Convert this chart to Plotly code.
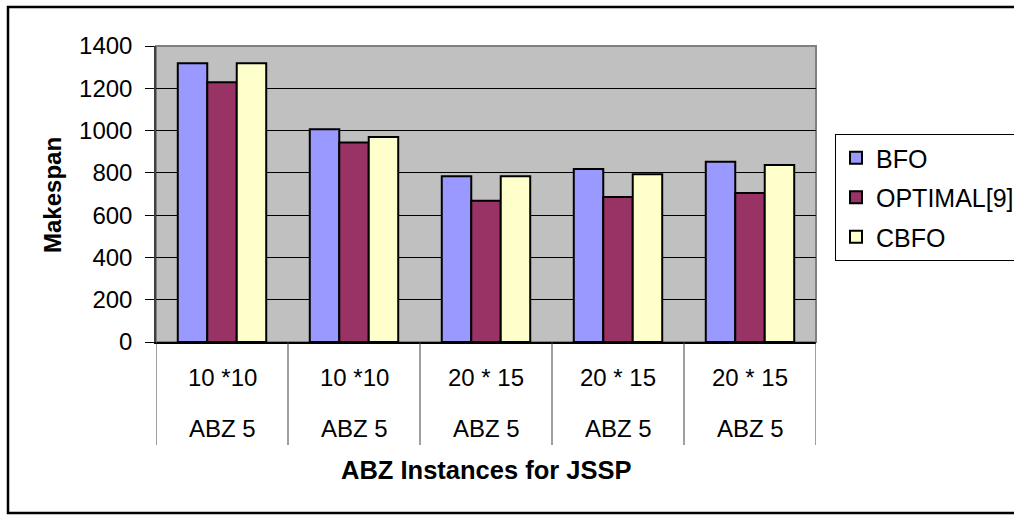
import plotly.graph_objects as go

# Problem sizes and instance names for each group of bars
sizes = ["10 *10", "10 *10", "20 * 15", "20 * 15", "20 * 15"]
instances = ["ABZ 5", "ABZ 5", "ABZ 5", "ABZ 5", "ABZ 5"]

# Makespan obtained by each method
bfo = [1318, 1006, 784, 818, 853]
optimal = [1228, 943, 668, 686, 705]
cbfo = [1318, 970, 784, 793, 837]

series_names = ["BFO", "OPTIMAL[9]", "CBFO"]
series_values = [bfo, optimal, cbfo]
series_colors = ["#9999FF", "#993366", "#FFFFCC"]

y_ticks = [0, 200, 400, 600, 800, 1000, 1200, 1400]

FONT = "Liberation Sans, Arial, Helvetica, sans-serif"
W, H = 1014, 515
L, R, T, B = 156, 816, 46, 342  # plot area edges in pixels
PW, PH = R - L, B - T


def px_x(p):
    return (p - L) / PW


def px_y(p):
    return (B - p) / PH


x_pos = list(range(len(sizes)))

fig = go.Figure()
for i, (name, vals, col) in enumerate(zip(series_names, series_values, series_colors)):
    fig.add_trace(go.Bar(
        x=x_pos, y=vals, name=name,
        marker=dict(color=col, line=dict(color="#000000", width=2)),
        legendgroup=f"g{i}",
    ))

shapes = []
# plot-area frame (top/right gray edges)
shapes.append(dict(type="rect", xref="paper", yref="paper", x0=0, x1=1, y0=0, y1=1,
                   line=dict(color="#808080", width=2), layer="below"))
# category separators running down through the label rows
for k in range(len(sizes) + 1):
    shapes.append(dict(type="line", xref="x", yref="paper", x0=k - 0.5, x1=k - 0.5,
                       y0=0, y1=px_y(445), line=dict(color="#404040", width=1)))
# outer chart frame
shapes.append(dict(type="rect", xref="paper", yref="paper",
                   x0=px_x(8), x1=px_x(1030), y0=px_y(513), y1=px_y(7),
                   line=dict(color="#000000", width=2.5)))

annotations = []
for k in range(len(sizes)):
    annotations.append(dict(x=x_pos[k], y=px_y(377), xref="x", yref="paper",
                            text=sizes[k], showarrow=False, yanchor="middle",
                            font=dict(size=24, color="#000000", family=FONT)))
    annotations.append(dict(x=x_pos[k], y=px_y(428), xref="x", yref="paper",
                            text=instances[k], showarrow=False, yanchor="middle",
                            font=dict(size=24, color="#000000", family=FONT)))
annotations.append(dict(x=px_x(486), y=px_y(470), xref="paper", yref="paper",
                        text="<b>ABZ Instances for JSSP</b>", showarrow=False,
                        yanchor="middle",
                        font=dict(size=25.5, color="#000000", family=FONT)))
annotations.append(dict(x=px_x(52), y=px_y(195), xref="paper", yref="paper",
                        text="<b>Makespan</b>", showarrow=False, textangle=-90,
                        xanchor="center", yanchor="middle",
                        font=dict(size=24, color="#000000", family=FONT)))

fig.update_layout(
    width=W, height=H,
    margin=dict(l=L, r=W - R, t=T, b=H - B, autoexpand=False),
    paper_bgcolor="#FFFFFF",
    plot_bgcolor="#C0C0C0",
    barmode="group",
    bargap=0.33,
    bargroupgap=0,
    font=dict(family=FONT, size=24, color="#000000"),
    showlegend=True,
    legend=dict(
        x=px_x(835), y=px_y(134), xanchor="left", yanchor="top",
        bgcolor="#FFFFFF", bordercolor="#000000", borderwidth=1,
        font=dict(size=25, family=FONT, color="#000000"),
        traceorder="grouped", tracegroupgap=4, itemwidth=30,
    ),
    xaxis=dict(range=[-0.5, len(sizes) - 0.5], showticklabels=False, showgrid=False,
               zeroline=False, showline=True, linecolor="#000000", linewidth=1.5,
               ticks="", fixedrange=True),
    yaxis=dict(range=[0, 1400], tickvals=y_ticks, ticktext=[str(v) for v in y_ticks],
               showgrid=True, gridcolor="#000000", gridwidth=1, zeroline=False,
               showline=True, linecolor="#404040", linewidth=1.5,
               ticks="outside", ticklen=9, tickcolor="#000000", tickwidth=1,
               ticklabelstandoff=8,
               tickfont=dict(size=24, family=FONT, color="#000000"), fixedrange=True),
    shapes=shapes,
    annotations=annotations,
)

fig.write_html("out.html")
